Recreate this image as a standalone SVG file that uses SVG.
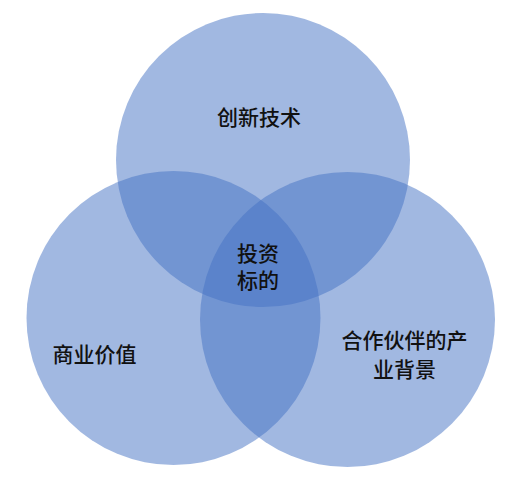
<svg xmlns="http://www.w3.org/2000/svg" width="519" height="481" viewBox="0 0 519 481">
<style>
.c{fill:#4472C4;fill-opacity:0.5}
.t{font-family:"Liberation Sans","Noto Sans CJK SC",sans-serif;font-size:21px;fill:#111;text-anchor:middle;font-weight:500}
</style>
<rect width="519" height="481" fill="#fff"/>
<g id="top"><circle class="c" cx="263" cy="160" r="147"/><text class="t" x="259" y="124.5">创新技术</text></g>
<g id="left"><circle class="c" cx="173.5" cy="318" r="147"/><text class="t" x="94.5" y="361.5">商业价值</text></g>
<g id="right"><circle class="c" cx="347.5" cy="319.5" r="147.5"/><text class="t" x="404.5" y="347.5">合作伙伴的产<tspan x="404.5" dy="29">业背景</tspan></text></g>
<g id="center"><text class="t" x="258" y="260.5">投资<tspan x="258" dy="27">标的</tspan></text></g>
<g id="connectors"></g>
</svg>
